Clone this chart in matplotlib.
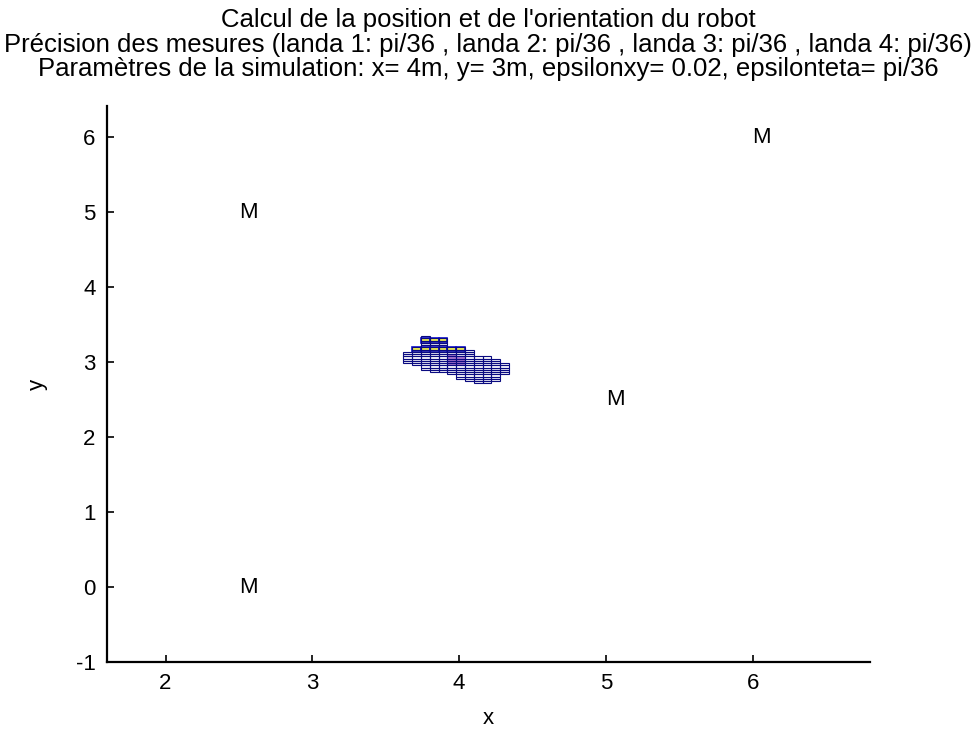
import matplotlib
matplotlib.use("Agg")
import matplotlib.pyplot as plt
import numpy as np

# landmarks ("M") positions
landmark_x = [2.5, 6.0, 2.5, 5.0]
landmark_y = [5.0, 6.0, 0.0, 2.5]

# cluster of candidate cells: one entry per column
col_left = [3.62, 3.68, 3.74, 3.80, 3.86, 3.92, 3.98, 4.04, 4.10, 4.16, 4.22, 4.28]
col_bottom = [2.99, 2.96, 2.90, 2.87, 2.87, 2.84, 2.78, 2.75, 2.72, 2.72, 2.75, 2.84]
col_top = [3.14, 3.20, 3.35, 3.32, 3.32, 3.20, 3.20, 3.17, 3.08, 3.08, 3.05, 2.99]
cell_w = 0.06
cell_h = 0.03

# yellow cells (column index, bottom, top)
yellow_cells = [(1, 3.14, 3.20), (2, 3.14, 3.20), (3, 3.14, 3.20), (4, 3.14, 3.20),
                (5, 3.14, 3.20), (6, 3.14, 3.20),
                (2, 3.26, 3.32), (3, 3.26, 3.32), (4, 3.26, 3.32)]

# purple patch around the true position
purple_x = [3.92, 3.98]
purple_bottom = [2.96, 2.96]
purple_top = [3.11, 3.08]

title_lines = [
    "Calcul de la position et de l'orientation du robot",
    "Précision des mesures (landa 1: pi/36 , landa 2: pi/36 , landa 3: pi/36 , landa 4: pi/36)",
    "Paramètres de la simulation: x= 4m, y= 3m, epsilonxy= 0.02, epsilonteta= pi/36",
]
title_y = [0.9730, 0.9390, 0.9060]


def main():
    plt.rcParams["font.family"] = ["Liberation Sans", "DejaVu Sans"]
    plt.rcParams["axes.unicode_minus"] = False
    fig = plt.figure(figsize=(9.71, 7.35), dpi=100)
    ax = fig.add_axes([0.110, 0.099, 0.786, 0.757])

    # purple patch below the grid
    ax.bar(purple_x, np.array(purple_top) - np.array(purple_bottom), width=cell_w,
           bottom=purple_bottom, align="edge", color="#9040c0", alpha=0.7,
           linewidth=0, zorder=1)

    # split each column into small cells
    xs, bs = [], []
    for left, lo, hi in zip(col_left, col_bottom, col_top):
        n = int(round((hi - lo) / cell_h))
        for k in range(n):
            xs.append(left)
            bs.append(lo + k * cell_h)
    ax.bar(xs, cell_h, width=cell_w, bottom=bs, align="edge",
           facecolor="none", edgecolor="#0a0a80", linewidth=0.8, zorder=3)

    yx = [col_left[c] for c, _, _ in yellow_cells]
    yb = [lo for _, lo, _ in yellow_cells]
    yh = [hi - lo for _, lo, hi in yellow_cells]
    ax.bar(yx, yh, width=cell_w, bottom=yb, align="edge",
           facecolor="#f0f050", edgecolor="#1010d0", linewidth=1.2, zorder=2)

    for x, y in zip(landmark_x, landmark_y):
        ax.text(x, y, "M", ha="left", va="center", fontsize=16)

    ax.set_xlim(1.6, 6.8)
    ax.set_ylim(-1, 6.42)
    ax.set_xticks(np.arange(2, 7))
    ax.set_yticks(np.arange(-1, 7))
    ax.tick_params(direction="in", length=5, width=1.2, labelsize=16, pad=8)
    for side in ["top", "right"]:
        ax.spines[side].set_visible(False)
    for side in ["left", "bottom"]:
        ax.spines[side].set_linewidth(1.6)

    ax.set_xlabel("x", fontsize=16, labelpad=10)
    ax.set_ylabel("y", fontsize=16, labelpad=20)

    for line, y in zip(title_lines, title_y):
        fig.text(0.5026, y, line, ha="center", va="center", fontsize=18.5)

    fig.savefig("out.png", dpi=100)


if __name__ == "__main__":
    main()
